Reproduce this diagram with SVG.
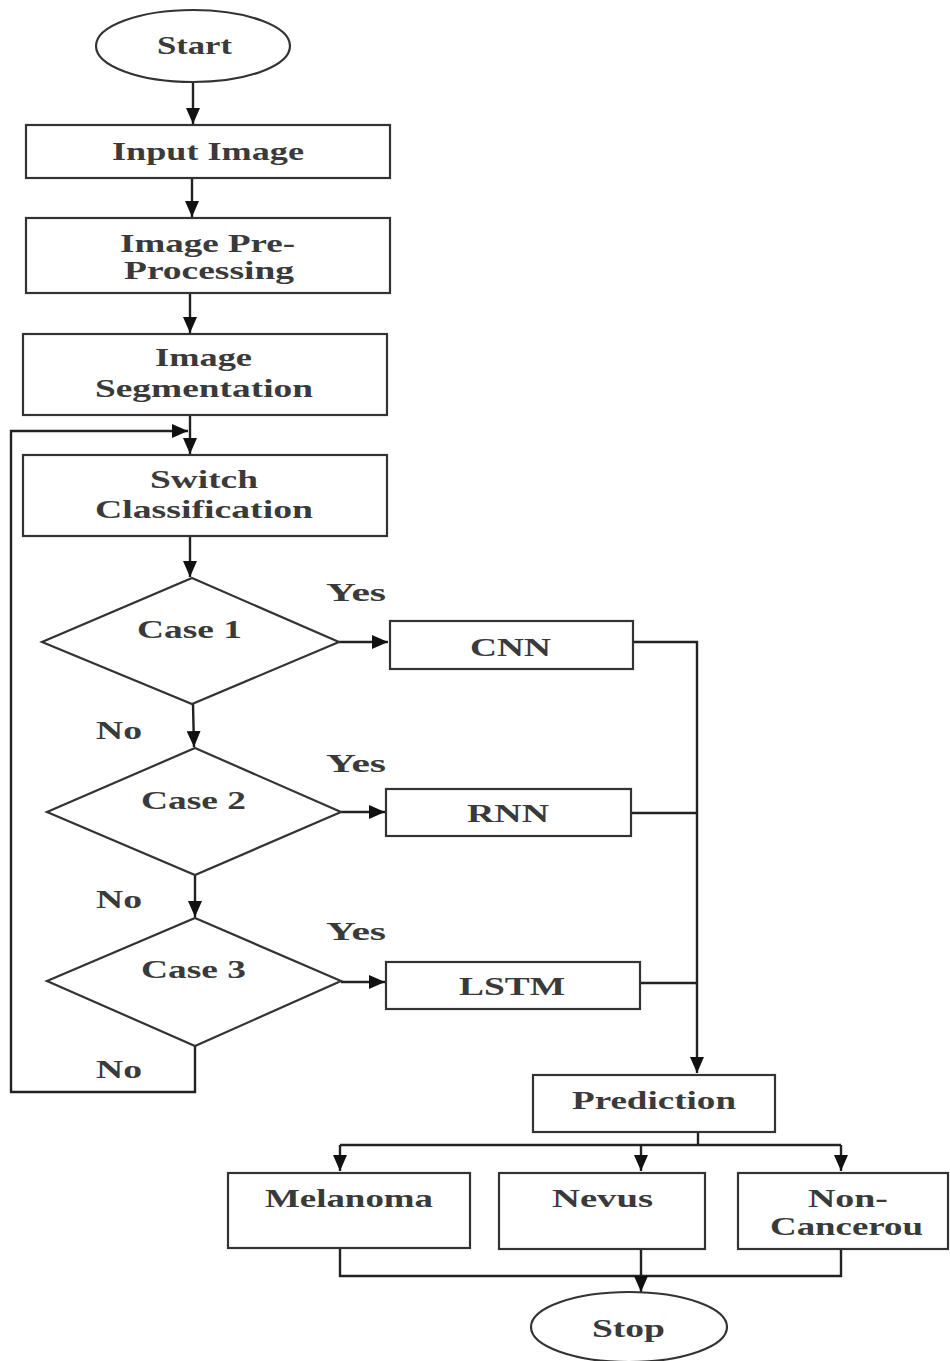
<svg xmlns="http://www.w3.org/2000/svg" width="950" height="1361" viewBox="0 0 950 1361">
<style>
.s{fill:#fff;stroke:#333;stroke-width:2.2}
.c{fill:none;stroke:#222;stroke-width:2.4}
.t{font-family:"Liberation Serif","Times New Roman",serif;font-weight:bold;font-size:25px;fill:#3a3a3a}
</style>
<defs>
<marker id="ah" markerUnits="userSpaceOnUse" markerWidth="16" markerHeight="14" viewBox="0 0 16 14" refX="16" refY="7" orient="auto">
<path d="M0,0 L16,7 L0,14 Z" fill="#111"/>
</marker>
</defs>
<rect width="950" height="1361" fill="#fff"/>
<g id="connectors">
<line class="c" x1="193" y1="82" x2="193" y2="124" marker-end="url(#ah)"/>
<line class="c" x1="192" y1="178" x2="192" y2="217" marker-end="url(#ah)"/>
<line class="c" x1="190" y1="293" x2="190" y2="333" marker-end="url(#ah)"/>
<line class="c" x1="190" y1="415" x2="190" y2="454" marker-end="url(#ah)"/>
<polyline class="c" points="195,1046 195,1092 11,1092 11,431 188,431" marker-end="url(#ah)"/>
<line class="c" x1="190" y1="536" x2="190" y2="577" marker-end="url(#ah)"/>
<line class="c" x1="339" y1="642" x2="388" y2="642" marker-end="url(#ah)"/>
<line class="c" x1="193" y1="704" x2="194" y2="747" marker-end="url(#ah)"/>
<line class="c" x1="341" y1="812" x2="385" y2="812" marker-end="url(#ah)"/>
<line class="c" x1="195" y1="875" x2="195" y2="917" marker-end="url(#ah)"/>
<line class="c" x1="341" y1="982" x2="385" y2="982" marker-end="url(#ah)"/>
<polyline class="c" points="634,642 697,642 697,1073" marker-end="url(#ah)"/>
<line class="c" x1="632" y1="813" x2="697" y2="813"/>
<line class="c" x1="641" y1="983" x2="697" y2="983"/>
<polyline class="c" points="698,1132 698,1145"/>
<line class="c" x1="340" y1="1145" x2="841" y2="1145"/>
<line class="c" x1="340" y1="1145" x2="340" y2="1171" marker-end="url(#ah)"/>
<line class="c" x1="641" y1="1145" x2="641" y2="1171" marker-end="url(#ah)"/>
<line class="c" x1="841" y1="1145" x2="841" y2="1171" marker-end="url(#ah)"/>
<polyline class="c" points="340,1248 340,1276 841,1276 841,1249"/>
<line class="c" x1="641" y1="1249" x2="641" y2="1292" marker-end="url(#ah)"/>
</g>
<g id="start">
<ellipse class="s" cx="193" cy="46" rx="97" ry="36"/>
<text class="t" x="157" y="54" textLength="75" lengthAdjust="spacingAndGlyphs">Start</text>
</g>
<g id="input">
<rect class="s" x="26" y="125" width="364" height="53"/>
<text class="t" x="112" y="160" textLength="192" lengthAdjust="spacingAndGlyphs">Input Image</text>
</g>
<g id="preprocessing">
<rect class="s" x="26" y="218" width="364" height="75"/>
<text class="t" x="120" y="252" textLength="175" lengthAdjust="spacingAndGlyphs">Image Pre-</text>
<text class="t" x="124" y="279" textLength="170" lengthAdjust="spacingAndGlyphs">Processing</text>
</g>
<g id="segmentation">
<rect class="s" x="23" y="334" width="364" height="81"/>
<text class="t" x="155" y="366" textLength="97" lengthAdjust="spacingAndGlyphs">Image</text>
<text class="t" x="95" y="397" textLength="218" lengthAdjust="spacingAndGlyphs">Segmentation</text>
</g>
<g id="switch">
<rect class="s" x="23" y="455" width="364" height="81"/>
<text class="t" x="150" y="488" textLength="108" lengthAdjust="spacingAndGlyphs">Switch</text>
<text class="t" x="95" y="518" textLength="218" lengthAdjust="spacingAndGlyphs">Classification</text>
</g>
<g id="case1">
<polygon class="s" points="192,578 339,642 192,704 42,642"/>
<text class="t" x="137" y="638" textLength="105" lengthAdjust="spacingAndGlyphs">Case 1</text>
</g>
<g id="case2">
<polygon class="s" points="195,748 341,812 195,875 47,812"/>
<text class="t" x="141" y="809" textLength="105" lengthAdjust="spacingAndGlyphs">Case 2</text>
</g>
<g id="case3">
<polygon class="s" points="195,918 341,981 195,1046 47,981"/>
<text class="t" x="141" y="978" textLength="105" lengthAdjust="spacingAndGlyphs">Case 3</text>
</g>
<g id="labels">
<text class="t" x="326" y="601" textLength="60" lengthAdjust="spacingAndGlyphs">Yes</text>
<text class="t" x="96" y="739" textLength="46" lengthAdjust="spacingAndGlyphs">No</text>
<text class="t" x="326" y="772" textLength="60" lengthAdjust="spacingAndGlyphs">Yes</text>
<text class="t" x="96" y="908" textLength="46" lengthAdjust="spacingAndGlyphs">No</text>
<text class="t" x="326" y="940" textLength="60" lengthAdjust="spacingAndGlyphs">Yes</text>
<text class="t" x="96" y="1078" textLength="46" lengthAdjust="spacingAndGlyphs">No</text>
</g>
<g id="cnn">
<rect class="s" x="390" y="621" width="243" height="48"/>
<text class="t" x="470" y="656" textLength="81" lengthAdjust="spacingAndGlyphs">CNN</text>
</g>
<g id="rnn">
<rect class="s" x="386" y="789" width="245" height="47"/>
<text class="t" x="467" y="822" textLength="82" lengthAdjust="spacingAndGlyphs">RNN</text>
</g>
<g id="lstm">
<rect class="s" x="386" y="962" width="254" height="47"/>
<text class="t" x="459" y="995" textLength="106" lengthAdjust="spacingAndGlyphs">LSTM</text>
</g>
<g id="prediction">
<rect class="s" x="533" y="1075" width="242" height="57"/>
<text class="t" x="572" y="1109" textLength="164" lengthAdjust="spacingAndGlyphs">Prediction</text>
</g>
<g id="melanoma">
<rect class="s" x="228" y="1173" width="242" height="75"/>
<text class="t" x="265" y="1207" textLength="168" lengthAdjust="spacingAndGlyphs">Melanoma</text>
</g>
<g id="nevus">
<rect class="s" x="499" y="1173" width="206" height="76"/>
<text class="t" x="552" y="1207" textLength="101" lengthAdjust="spacingAndGlyphs">Nevus</text>
</g>
<g id="noncancerous">
<rect class="s" x="738" y="1173" width="210" height="76"/>
<text class="t" x="808" y="1207" textLength="80" lengthAdjust="spacingAndGlyphs">Non-</text>
<text class="t" x="770" y="1235" textLength="153" lengthAdjust="spacingAndGlyphs">Cancerou</text>
</g>
<g id="stop">
<ellipse class="s" cx="629" cy="1327" rx="98" ry="35"/>
<text class="t" x="592" y="1337" textLength="73" lengthAdjust="spacingAndGlyphs">Stop</text>
</g>
</svg>
